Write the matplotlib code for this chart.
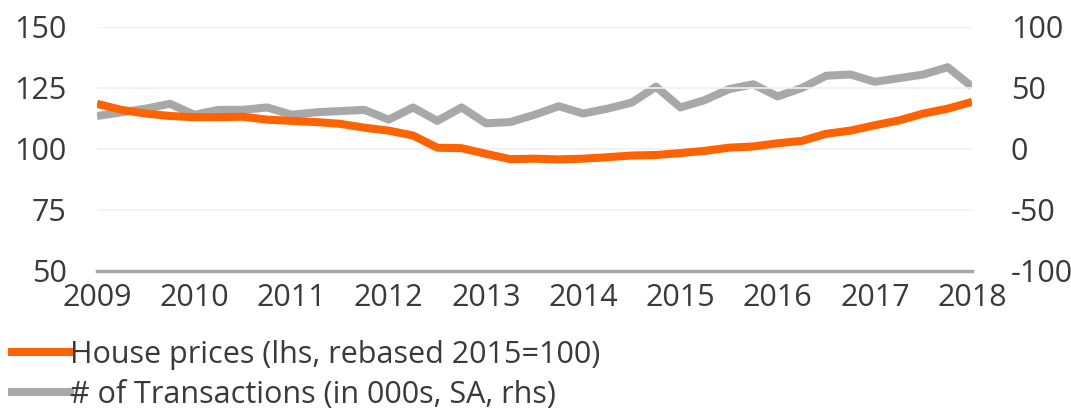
import matplotlib.pyplot as plt
import numpy as np

# quarterly, 2009Q1 .. 2018Q1
quarters = np.arange(2009, 2018.01, 0.25)

house_prices = [118.5, 116.0, 114.5, 113.5,
                113.0, 113.0, 113.2, 112.0,
                111.5, 111.0, 110.3, 108.7,
                107.5, 105.5, 100.5, 100.3,
                98.0, 95.8, 96.0, 95.7,
                96.0, 96.6, 97.3, 97.5,
                98.3, 99.2, 100.5, 101.0,
                102.3, 103.3, 106.2, 107.5,
                109.7, 111.7, 114.5, 116.5,
                119.3]

transactions = [27, 30, 33, 37,
                28, 32, 32, 34,
                28, 30, 31, 32,
                24, 34, 23, 34,
                21, 22, 28, 35,
                29, 33, 38, 51,
                34, 40, 49, 53,
                43, 50, 60, 61,
                55, 58, 61, 67,
                51]

years = list(range(2009, 2019))
lhs_ticks = [50, 75, 100, 125, 150]
rhs_ticks = [-100, -50, 0, 50, 100]

ORANGE = '#ff6200'
GREY = '#a8a8a8'
TXT = '#3a3a3a'
FS = 22

plt.rcParams['font.family'] = ['Open Sans', 'DejaVu Sans']
plt.rcParams['font.size'] = FS
plt.rcParams['axes.unicode_minus'] = False

def main():
    fig = plt.figure(figsize=(10.71, 4.08), dpi=100)
    ax = fig.add_axes([0.0906, 0.336, 0.817, 0.598])
    ax2 = ax.twinx()

    ax.set_xlim(2009, 2018)
    ax.set_ylim(50, 150)
    ax2.set_ylim(-100, 100)

    for y in lhs_ticks[1:]:
        ax.axhline(y, color='#f0f0f0', lw=1.2, zorder=0)
    ax.axhline(50, color=GREY, lw=2.5, zorder=1, clip_on=False)

    ax.plot(quarters, house_prices, color=ORANGE, lw=5.8,
            solid_joinstyle='round', solid_capstyle='butt', zorder=3)
    ax2.plot(quarters, transactions, color=GREY, lw=5.8,
             solid_joinstyle='round', solid_capstyle='butt', zorder=2)
    ax.set_zorder(ax2.get_zorder() + 1)
    ax.patch.set_visible(False)

    for a in (ax, ax2):
        for s in a.spines.values():
            s.set_visible(False)
        a.tick_params(length=0, colors=TXT, labelsize=FS)

    ax.set_yticks(lhs_ticks)
    ax2.set_yticks(rhs_ticks)
    ax.set_xticks(years)
    ax.tick_params(axis='y', pad=22)
    ax2.tick_params(axis='y', pad=28)
    ax.tick_params(axis='x', pad=9)

    h1, = ax.plot([], [], color=ORANGE, lw=5.8)
    h2, = ax.plot([], [], color=GREY, lw=5.8)
    fig.legend([h1, h2],
               ['House prices (lhs, rebased 2015=100)',
                '# of Transactions (in 000s, SA, rhs)'],
               loc='upper left', bbox_to_anchor=(0.0, 0.197),
               frameon=False, handlelength=1.9, handletextpad=0.0,
               labelspacing=0.33, borderaxespad=0, fontsize=FS,
               labelcolor=TXT)

    fig.savefig('out.png', dpi=100, facecolor='white')


if __name__ == '__main__':
    main()
